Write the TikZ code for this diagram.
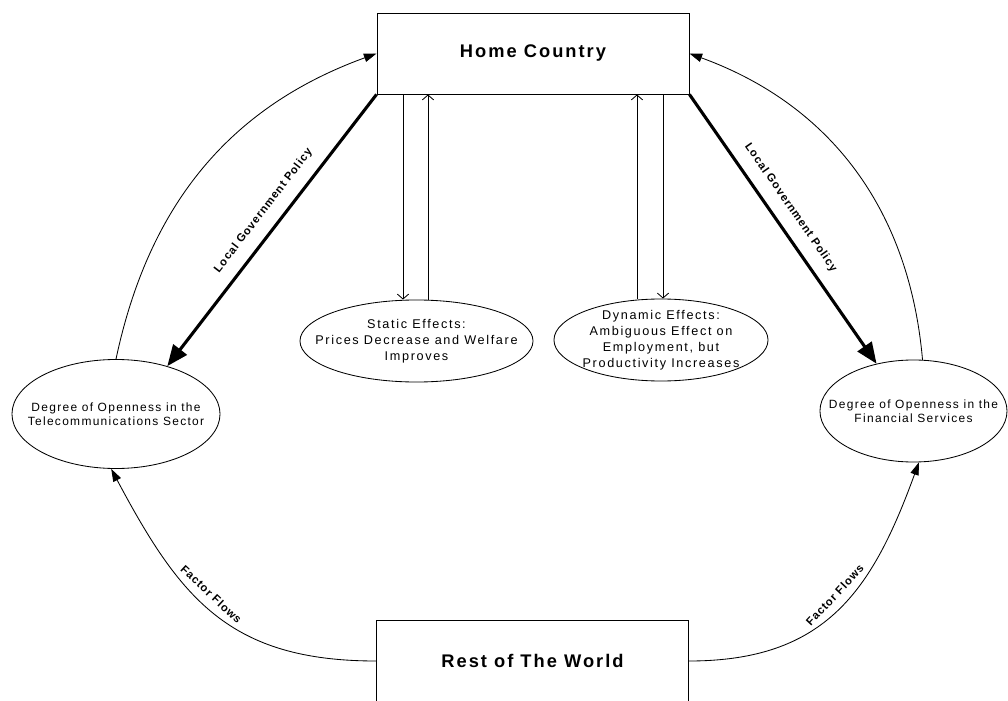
\documentclass[tikz,border=0pt]{standalone}
\usepackage{fontspec}
\setmainfont{Liberation Sans}
\usetikzlibrary{arrows.meta,shapes.geometric}

\begin{document}
\begin{tikzpicture}[x=0.025cm,y=0.025cm,
  box/.style={draw,line width=0.6pt,minimum width=7.8cm,minimum height=2.025cm,
    font=\fontsize{13}{15}\selectfont\bfseries\addfontfeature{LetterSpace=11}},
  oval/.style={draw,ellipse,line width=0.6pt,inner sep=0pt},
  small/.style={align=center,font=\fontsize{8.5}{10}\selectfont\addfontfeature{LetterSpace=11}},
  effect/.style={align=center,font=\fontsize{9}{11.3}\selectfont\addfontfeature{LetterSpace=13}},
  policy/.style={line width=2.2pt,-{Triangle[length=15pt,width=12pt]}},
  flow/.style={line width=0.6pt,-{Triangle[length=9pt,width=6pt]}},
  link/.style={line width=0.6pt,-{Straight Barb[length=3.5pt,width=8pt]}},
  lbl/.style={sloped,font=\fontsize{8}{9}\selectfont\bfseries\addfontfeature{LetterSpace=8}}]
  \useasboundingbox (0,0) rectangle (1008,700);
  \clip (0,0) rectangle (1008,700);

  \node[box] (home) at (533,646.5) {Home Country};
  \node[box] (rest) at (532.5,39) {Rest of The World};

  \node[oval,minimum width=5.2cm,minimum height=2.725cm,
    label={[small]center:{Degree of Openness in the\\Telecommunications Sector}}] (tele) at (116,286) {};
  \node[oval,minimum width=4.675cm,minimum height=2.55cm,
    label={[small]center:{Degree of Openness in the\\Financial Services}}] (fin) at (913.5,289) {};
  \node[oval,minimum width=5.825cm,minimum height=2.05cm,
    label={[effect]center:{Static Effects:\\Prices Decrease and Welfare\\Improves}}] (static) at (416.5,359) {};
  \node[oval,minimum width=5.35cm,minimum height=2.05cm,
    label={[effect]center:{Dynamic Effects:\\Ambiguous Effect on\\Employment, but\\Productivity Increases}}] (dynamic) at (661,360) {};

  \draw[flow] (tele.north) to[out=78,in=200] (home.west);
  \draw[flow] (fin.80) to[out=95,in=-20] (home.east);
  \draw[policy] (home.south west) -- (tele.43) node[lbl,pos=0.47,above=5pt] {Local Government Policy};
  \draw[policy] (home.south east) -- (fin.128) node[lbl,pos=0.46,above=5pt] {Local Government Policy};

  \draw[link] ([xshift=-0.3375cm]static.north |- home.south) -- ([xshift=-0.3375cm]static.north);
  \draw[link] ([xshift=0.2875cm]static.north) -- ([xshift=0.2875cm]static.north |- home.south);
  \draw[link] ([xshift=-0.6cm]dynamic.north) -- ([xshift=-0.6cm]dynamic.north |- home.south);
  \draw[link] ([xshift=0.05cm]dynamic.north |- home.south) -- ([xshift=0.05cm]dynamic.north);

  \draw[flow] (rest.west) to[out=180,in=-62,looseness=1.15]
    node[lbl,pos=0.55,above=5pt,inner sep=0.5pt] {Factor Flows} (tele.265);
  \draw[flow] (rest.east) to[out=0,in=-110,looseness=1.15]
    node[lbl,pos=0.53,above=5pt,inner sep=0.5pt] {Factor Flows} (fin.276);
\end{tikzpicture}
\end{document}
